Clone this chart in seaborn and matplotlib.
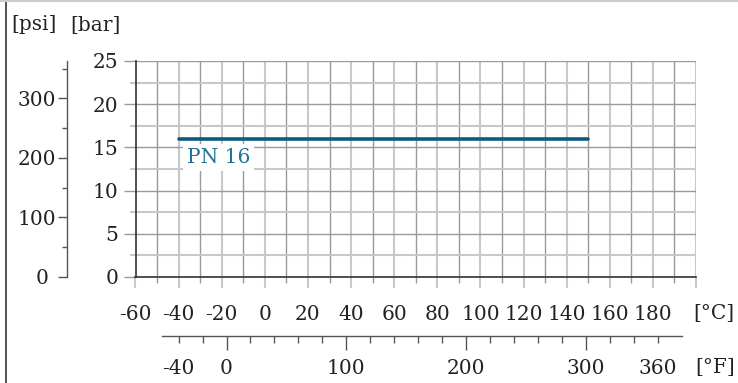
import matplotlib
matplotlib.use("Agg")
import numpy as np
import pandas as pd
import matplotlib.pyplot as plt
from matplotlib import ticker
from matplotlib.lines import Line2D
import seaborn as sns

# data
pn_temp_c = [-40, 150]
pn_bar = [16, 16]
pn_label = "PN 16"

c_ticks = [-60, -40, -20, 0, 20, 40, 60, 80, 100, 120, 140, 160, 180, 200]
c_labels = ["-60", "-40", "-20", "0", "20", "40", "60", "80", "100", "120", "140", "160", "180", ""]
bar_ticks = [0, 5, 10, 15, 20, 25]
psi_ticks = [0, 100, 200, 300]
psi_labels = ["0 ", "100", "200", "300"]
f_major = [0, 100, 200, 300]
f_edge_labels = [-40, 360]

sns.set_theme(style="white")
plt.rcParams["font.family"] = ["DejaVu Serif"]
plt.rcParams["axes.unicode_minus"] = False

W, H, DPI = 738, 383, 100
PT = DPI / 72.0  # px per point

def fx(x):
    return x / W

def fy(y):
    return 1 - y / H

light = "#c8c8c8"
dark = "#9a9a9a"
txt = "#222222"
FS = 14.5

fig = plt.figure(figsize=(W / DPI, H / DPI), dpi=DPI)

# main axes (bar vs degC)
left, right, top, bottom = 135.5, 696, 61, 277
ax = fig.add_axes([fx(left), fy(bottom), fx(right - left), (bottom - top) / H])
ax.set_facecolor("none")
ax.set_xlim(-60, 200)
ax.set_ylim(0, 25)

ax.set_xticks(c_ticks)
ax.set_xticklabels(c_labels)
ax.set_xticks(np.arange(-50, 200, 10), minor=True)
ax.set_yticks(bar_ticks)
ax.set_yticks(np.arange(2.5, 25, 5), minor=True)

ax.xaxis.grid(True, which="major", color=light, lw=1.5)
ax.xaxis.grid(True, which="minor", color=dark, lw=1.0)
ax.yaxis.grid(True, which="major", color=dark, lw=1.0)
ax.yaxis.grid(True, which="minor", color=light, lw=1.5)
ax.set_axisbelow(True)

ax.tick_params(axis="x", which="major", bottom=True, direction="out", length=11 / PT,
               width=1.5, color=light, labelsize=FS, labelcolor=txt, pad=17 / PT)
ax.tick_params(axis="x", which="minor", bottom=True, direction="out", length=6 / PT,
               width=1.0, color=dark)
ax.tick_params(axis="y", which="major", left=True, direction="out", length=12 / PT,
               width=1.0, color=dark, labelsize=FS, labelcolor=txt, pad=5 / PT)
ax.tick_params(axis="y", which="minor", left=True, direction="out", length=6 / PT,
               width=1.5, color=light)

for s in ["top", "right"]:
    ax.spines[s].set_visible(False)
for s in ["left", "bottom"]:
    ax.spines[s].set_color("#333333")
    ax.spines[s].set_linewidth(1.2)
    ax.spines[s].set_zorder(3)

df = pd.DataFrame({"temp": pn_temp_c, "bar": pn_bar})
sns.lineplot(data=df, x="temp", y="bar", ax=ax, color="#0b5b7c", lw=2.6, zorder=4)
ax.annotate(pn_label, xy=(pn_temp_c[0], pn_bar[0]), xytext=(6, -6.5), textcoords="offset points",
            ha="left", va="top", fontsize=FS, color="#1f7396", zorder=5,
            bbox=dict(boxstyle="square,pad=0.2", fc="white", ec="none"))
ax.set_xlabel("")
ax.set_ylabel("")

# psi axis
ax_psi = fig.add_axes([fx(66.7), fy(bottom), 0.0005, (bottom - top) / H])
ax_psi.set_facecolor("none")
ax_psi.set_ylim(0, 25 * 14.5038)
ax_psi.set_yticks(psi_ticks)
ax_psi.set_yticklabels(psi_labels)
ax_psi.set_yticks([50, 150, 250, 350], minor=True)
ax_psi.set_xticks([])
for s in ["top", "right", "bottom"]:
    ax_psi.spines[s].set_visible(False)
ax_psi.spines["left"].set_color("#555555")
ax_psi.spines["left"].set_linewidth(1.0)
ax_psi.tick_params(axis="y", which="major", left=True, direction="out", length=9 / PT,
                   width=1.0, color="#555555", labelsize=FS, labelcolor=txt, pad=2 / PT)
ax_psi.tick_params(axis="y", which="minor", left=True, direction="out", length=5 / PT,
                   width=1.0, color="#555555")

# Fahrenheit axis
f_y = 336
ax_f = fig.add_axes([fx(left), fy(f_y), fx(right - left), 0.0005])
ax_f.set_facecolor("none")
ax_f.set_xlim(-60 * 9 / 5 + 32, 200 * 9 / 5 + 32)
ax_f.set_yticks([])
for s in ["top", "right", "left"]:
    ax_f.spines[s].set_visible(False)
ax_f.spines["bottom"].set_bounds(-54, 380)
ax_f.spines["bottom"].set_color("#555555")
ax_f.spines["bottom"].set_linewidth(1.0)
ax_f.set_xticks(f_major)
ax_f.set_xticklabels([str(v) for v in f_major])
ax_f.set_xticks(np.arange(-40, 361, 20), minor=True)
ax_f.xaxis.set_minor_formatter(ticker.FuncFormatter(
    lambda v, p: f"{v:.0f}" if round(v) in f_edge_labels else ""))
ax_f.tick_params(axis="x", which="major", bottom=True, direction="out", length=14 / PT,
                 width=1.0, color="#555555", labelsize=FS, labelcolor=txt, pad=9.5 / PT)
ax_f.tick_params(axis="x", which="minor", bottom=True, direction="out", length=7 / PT,
                 width=1.0, color="#555555", labelsize=FS, labelcolor=txt, pad=16.5 / PT)

# unit labels
fig.text(fx(34), fy(25), "[psi]", ha="center", va="center", fontsize=FS, color=txt)
fig.text(fx(95), fy(25), "[bar]", ha="center", va="center", fontsize=FS, color=txt)
fig.text(fx(714), fy(313), "[°C]", ha="center", va="center", fontsize=FS, color=txt)
fig.text(fx(715), fy(367), "[°F]", ha="center", va="center", fontsize=FS, color=txt)

# frame lines
fig.add_artist(Line2D([fx(6.5), fx(6.5)], [0, 1], transform=fig.transFigure, color="#333333", lw=1.2))
fig.add_artist(Line2D([0, 1], [fy(0.7), fy(0.7)], transform=fig.transFigure, color="#cccccc", lw=1.5))

fig.savefig("out.png", dpi=DPI)
